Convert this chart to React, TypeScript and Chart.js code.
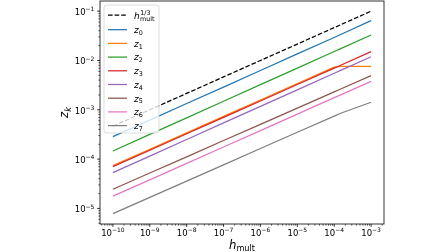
import React, { useEffect, useRef } from "react";
import { Chart, registerables } from "chart.js";

Chart.register(...registerables);

// ---- data ----
const hValues = [1e-10, 1e-9, 1e-8, 1e-7, 1e-6, 1e-5, 1e-4, 1.5e-4, 1e-3];
const hCubeRoot = [4.64e-4, 1.0e-3, 2.15e-3, 4.64e-3, 1.0e-2, 2.15e-2, 4.64e-2, 5.31e-2, 1.0e-1];
const z0Values = [2.85e-4, 6.17e-4, 1.34e-3, 2.89e-3, 6.26e-3, 1.36e-2, 2.93e-2, 3.36e-2, 6.41e-2];
const z1Values = [7.4e-5, 1.58e-4, 3.41e-4, 7.35e-4, 1.58e-3, 3.41e-3, 7.3e-3, 7.6e-3, 7.6e-3];
const z2Values = [1.46e-4, 3.17e-4, 6.87e-4, 1.49e-3, 3.23e-3, 7.0e-3, 1.52e-2, 1.74e-2, 3.29e-2];
const z3Values = [7.03e-5, 1.51e-4, 3.26e-4, 7.02e-4, 1.51e-3, 3.25e-3, 7.0e-3, 8.0e-3, 1.51e-2];
const z4Values = [5.32e-5, 1.15e-4, 2.5e-4, 5.42e-4, 1.17e-3, 2.54e-3, 5.51e-3, 6.31e-3, 1.19e-2];
const z5Values = [2.45e-5, 5.22e-5, 1.11e-4, 2.38e-4, 5.07e-4, 1.08e-3, 2.31e-3, 2.64e-3, 4.92e-3];
const z6Values = [1.77e-5, 3.8e-5, 8.18e-5, 1.76e-4, 3.79e-4, 8.17e-4, 1.76e-3, 2.01e-3, 3.78e-3];
const z7Values = [7.83e-6, 1.67e-5, 3.58e-5, 7.66e-5, 1.64e-4, 3.5e-4, 7.45e-4, 8.5e-4, 1.42e-3];

const seriesValues = [z0Values, z1Values, z2Values, z3Values, z4Values, z5Values, z6Values, z7Values];
const seriesSubscripts = ["0", "1", "2", "3", "4", "5", "6", "7"];
const seriesColors = ["#1f77b4", "#ff7f0e", "#2ca02c", "#d62728", "#9467bd", "#8c564b", "#e377c2", "#7f7f7f"];

const xMajorExps = [-10, -9, -8, -7, -6, -5, -4, -3];
const yMajorExps = [-5, -4, -3, -2, -1];
const xLimits = [4.47e-11, 2.24e-3];
const yLimits = [4.83e-6, 0.1607];

const FONT = "'DejaVu Sans', 'Liberation Sans', sans-serif";
const LINE_W = 1.25;
const DASH = [4.6, 2.0];

type Run = { t: string; size: number; italic?: boolean; dy?: number };

function fontOf(r: Run) {
  return `${r.italic ? "italic " : ""}${r.size}px ${FONT}`;
}

function runsWidth(ctx: CanvasRenderingContext2D, runs: Run[]) {
  let w = 0;
  for (const r of runs) {
    ctx.font = fontOf(r);
    w += ctx.measureText(r.t).width;
  }
  return w;
}

function drawRuns(ctx: CanvasRenderingContext2D, runs: Run[], x: number, y: number, align: "left" | "center" | "right") {
  const w = runsWidth(ctx, runs);
  let cx = align === "left" ? x : align === "center" ? x - w / 2 : x - w;
  ctx.textAlign = "left";
  ctx.textBaseline = "alphabetic";
  for (const r of runs) {
    ctx.font = fontOf(r);
    ctx.fillText(r.t, cx, y + (r.dy || 0));
    cx += ctx.measureText(r.t).width;
  }
}

function powRuns(exp: number): Run[] {
  return [
    { t: "10", size: 8.5 },
    { t: "\u2212" + Math.abs(exp), size: 6.0, dy: -3.7 },
  ];
}

function minorValues(lim: number[]) {
  const out: number[] = [];
  const e0 = Math.floor(Math.log10(lim[0]));
  const e1 = Math.ceil(Math.log10(lim[1]));
  for (let e = e0; e <= e1; e++) {
    for (let m = 2; m <= 9; m++) {
      const v = m * Math.pow(10, e);
      if (v >= lim[0] && v <= lim[1]) out.push(v);
    }
  }
  return out;
}

const mplPlugin = {
  id: "mplAxes",
  afterDatasetsDraw(chart: any) {
    const ctx: CanvasRenderingContext2D = chart.ctx;
    const a = chart.chartArea;
    const xs = chart.scales.x;
    const ys = chart.scales.y;
    ctx.save();

    // frame
    ctx.strokeStyle = "#000";
    ctx.lineWidth = 0.8;
    ctx.setLineDash([]);
    ctx.strokeRect(a.left, a.top, a.right - a.left, a.bottom - a.top);

    // ticks
    const tick = (x1: number, y1: number, x2: number, y2: number, w: number) => {
      ctx.lineWidth = w;
      ctx.beginPath();
      ctx.moveTo(x1, y1);
      ctx.lineTo(x2, y2);
      ctx.stroke();
    };
    for (const e of xMajorExps) {
      const px = xs.getPixelForValue(Math.pow(10, e));
      tick(px, a.bottom, px, a.bottom + 2.9, 0.8);
    }
    for (const v of minorValues(xLimits)) {
      const px = xs.getPixelForValue(v);
      tick(px, a.bottom, px, a.bottom + 1.7, 0.6);
    }
    for (const e of yMajorExps) {
      const py = ys.getPixelForValue(Math.pow(10, e));
      tick(a.left, py, a.left - 2.9, py, 0.8);
    }
    for (const v of minorValues(yLimits)) {
      const py = ys.getPixelForValue(v);
      tick(a.left, py, a.left - 1.7, py, 0.6);
    }

    // tick labels
    ctx.fillStyle = "#000";
    for (const e of xMajorExps) {
      const px = xs.getPixelForValue(Math.pow(10, e));
      drawRuns(ctx, powRuns(e), px, a.bottom + 11.5, "center");
    }
    for (const e of yMajorExps) {
      const py = ys.getPixelForValue(Math.pow(10, e));
      drawRuns(ctx, powRuns(e), a.left - 5.6, py + 3.8, "right");
    }

    // axis labels
    drawRuns(
      ctx,
      [
        { t: "h", size: 11.7, italic: true },
        { t: "mult", size: 8.2, dy: 2.6 },
      ],
      (a.left + a.right) / 2,
      248.5,
      "center"
    );
    ctx.save();
    ctx.translate(68, (a.top + a.bottom) / 2);
    ctx.rotate(-Math.PI / 2);
    drawRuns(
      ctx,
      [
        { t: "z", size: 11.7, italic: true },
        { t: "k", size: 8.2, italic: true, dy: 2.6 },
      ],
      0,
      0,
      "center"
    );
    ctx.restore();

    // legend
    const lx = 104, ly = 5, lw = 55, lh = 128;
    ctx.beginPath();
    if ((ctx as any).roundRect) (ctx as any).roundRect(lx, ly, lw, lh, 2.5);
    else ctx.rect(lx, ly, lw, lh);
    ctx.fillStyle = "rgba(255,255,255,0.8)";
    ctx.fill();
    ctx.strokeStyle = "rgba(204,204,204,0.8)";
    ctx.lineWidth = 0.83;
    ctx.stroke();

    const rows = [15, 29.7, 43.4, 57.1, 70.8, 84.5, 98.2, 111.9, 125.6];
    const hx0 = 108, hx1 = 127, tx = 134;
    const handle = (y: number, color: string, dash: number[]) => {
      ctx.strokeStyle = color;
      ctx.lineWidth = LINE_W;
      ctx.setLineDash(dash);
      ctx.beginPath();
      ctx.moveTo(hx0, y);
      ctx.lineTo(hx1, y);
      ctx.stroke();
      ctx.setLineDash([]);
    };
    handle(rows[0], "#000", DASH);
    ctx.fillStyle = "#000";
    ctx.font = fontOf({ t: "h", size: 9, italic: true });
    ctx.textAlign = "left";
    ctx.textBaseline = "alphabetic";
    ctx.fillText("h", tx, rows[0] + 4);
    const hw = ctx.measureText("h").width;
    ctx.font = `6.4px ${FONT}`;
    ctx.fillText("1/3", tx + hw + 0.6, rows[0] - 0.4);
    ctx.fillText("mult", tx + hw + 0.2, rows[0] + 6.4);

    seriesValues.forEach((_, i) => {
      const y = rows[i + 1];
      handle(y, seriesColors[i], []);
      ctx.fillStyle = "#000";
      drawRuns(
        ctx,
        [
          { t: "z", size: 9, italic: true },
          { t: seriesSubscripts[i], size: 6.4, dy: 1.9 },
        ],
        tx,
        y + 3.3,
        "left"
      );
    });

    ctx.restore();
  },
};

export default function App() {
  const ref = useRef<HTMLCanvasElement | null>(null);

  useEffect(() => {
    document.body.style.margin = "0";
    const canvas = ref.current;
    if (!canvas) return;
    const toPts = (vals: number[]) => vals.map((v, i) => ({ x: hValues[i], y: v }));
    const n = seriesValues.length + 1;
    const datasets: any[] = [
      {
        label: "h^(1/3)",
        data: toPts(hCubeRoot),
        borderColor: "#000",
        borderWidth: LINE_W,
        borderDash: DASH,
        pointRadius: 0,
        fill: false,
        order: n,
      },
      ...seriesValues.map((vals, i) => ({
        label: "z" + seriesSubscripts[i],
        data: toPts(vals),
        borderColor: seriesColors[i],
        borderWidth: LINE_W,
        pointRadius: 0,
        fill: false,
        order: n - 1 - i,
      })),
    ];
    const chart = new Chart(canvas, {
      type: "line",
      data: { datasets },
      options: {
        responsive: false,
        animation: false,
        devicePixelRatio: 1,
        layout: { padding: { left: 100, right: 64, top: 1, bottom: 28 } },
        plugins: { legend: { display: false }, tooltip: { enabled: false } },
        elements: { line: { tension: 0 }, point: { radius: 0 } },
        scales: {
          x: { type: "logarithmic", min: xLimits[0], max: xLimits[1], display: false },
          y: { type: "logarithmic", min: yLimits[0], max: yLimits[1], display: false },
        },
      },
      plugins: [mplPlugin],
    } as any);
    return () => chart.destroy();
  }, []);

  return (
    <div style={{ position: "fixed", left: 0, top: 0, width: 448, height: 252, background: "#fff" }}>
      <canvas ref={ref} width={448} height={252} style={{ width: 448, height: 252, display: "block" }} />
    </div>
  );
}
